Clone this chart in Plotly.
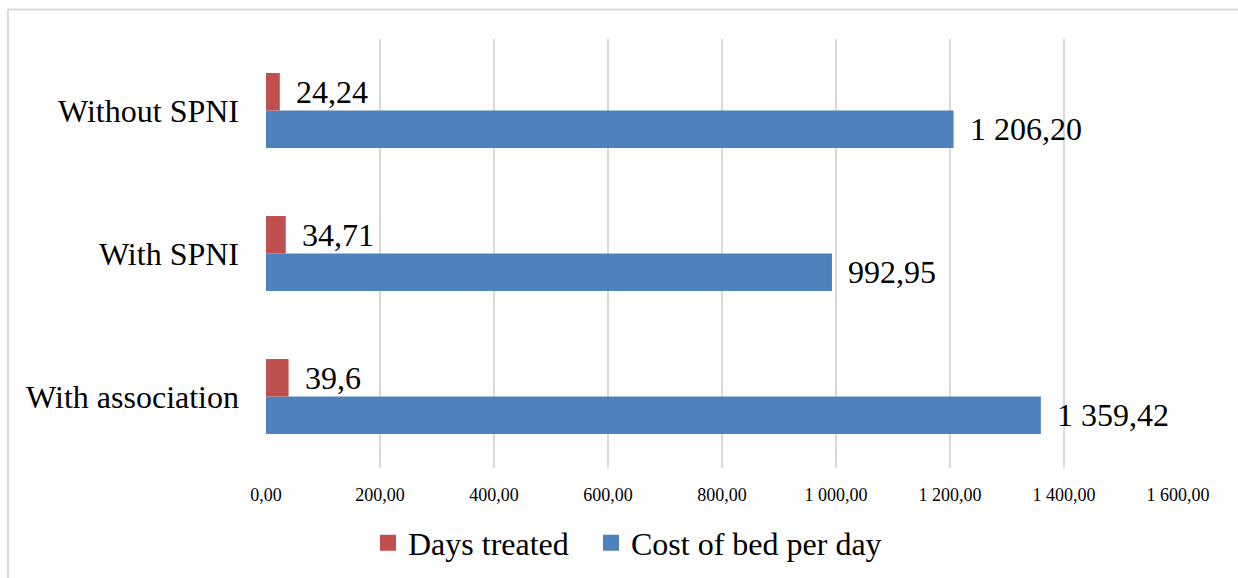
import plotly.graph_objects as go

# Categories listed bottom-to-top on the value axis
categories = ["With association", "With SPNI", "Without SPNI"]
days_treated = [39.6, 34.71, 24.24]
cost_per_day = [1359.42, 992.95, 1206.20]
days_labels = ["39,6", "34,71", "24,24"]
cost_labels = ["1 359,42", "992,95", "1 206,20"]
x_ticks = [0, 200, 400, 600, 800, 1000, 1200, 1400, 1600]

RED = "#C0504D"
BLUE = "#4F81BD"
FONT = "Liberation Serif"
BIG = 32

fig = go.Figure()

# Cost first so it sits below the days bar inside each group
fig.add_trace(go.Bar(y=categories, x=cost_per_day, orientation="h",
                     marker=dict(color=BLUE, line=dict(width=0)),
                     name="Cost of bed per day", showlegend=False,
                     hoverinfo="x"))
fig.add_trace(go.Bar(y=categories, x=days_treated, orientation="h",
                     marker=dict(color=RED, line=dict(width=0)),
                     name="Days treated", showlegend=False,
                     hoverinfo="x"))

# Legend entries with larger square swatches, one legend box each
fig.add_trace(go.Scatter(x=[None], y=[None], mode="markers", name="Days treated",
                         marker=dict(symbol="square", size=17, color=RED),
                         legend="legend"))
fig.add_trace(go.Scatter(x=[None], y=[None], mode="markers", name="Cost of bed per day",
                         marker=dict(symbol="square", size=17, color=BLUE),
                         legend="legend2"))

# Value labels just past the end of each bar
shift = 18.7
for cat, v, lab in zip(categories, days_treated, days_labels):
    fig.add_annotation(x=v, y=cat, text=lab, showarrow=False, xanchor="left",
                       yanchor="middle", xshift=14, yshift=shift,
                       font=dict(family=FONT, size=BIG, color="#000000"))
for cat, v, lab in zip(categories, cost_per_day, cost_labels):
    fig.add_annotation(x=v, y=cat, text=lab, showarrow=False, xanchor="left",
                       yanchor="middle", xshift=14, yshift=-shift,
                       font=dict(family=FONT, size=BIG, color="#000000"))

W, H = 1238, 578
L, R, T, B = 266, 60, 39, 110
pw, ph = W - L - R, H - T - B


def px_x(p):
    return (p - L) / pw


def px_y(p):
    return (H - B - p) / ph


# Chart frame: top and left edges
frame = dict(color="#D9D9D9", width=2)
fig.add_shape(type="line", xref="paper", yref="paper",
              x0=px_x(8), x1=px_x(1320), y0=px_y(9.5), y1=px_y(9.5),
              line=frame, layer="below")
fig.add_shape(type="line", xref="paper", yref="paper",
              x0=px_x(8), x1=px_x(8), y0=px_y(9.5), y1=px_y(650),
              line=frame, layer="below")

legend_style = dict(orientation="h", yanchor="middle", y=px_y(543),
                    xanchor="left",
                    font=dict(family=FONT, size=BIG, color="#000000"),
                    bgcolor="rgba(0,0,0,0)")

fig.update_layout(
    width=W, height=H,
    margin=dict(l=L, r=R, t=T, b=B, autoexpand=False),
    paper_bgcolor="white", plot_bgcolor="white",
    barmode="group", bargap=0.476, bargroupgap=0,
    separators=", ",
    font=dict(family=FONT, color="#000000"),
    showlegend=True,
    legend=dict(x=px_x(368), **legend_style),
    legend2=dict(x=px_x(591), **legend_style),
    xaxis=dict(range=[0, 1600], tickvals=x_ticks, tickformat=",.2f",
               showgrid=True, gridcolor="#D9D9D9", gridwidth=1.5,
               zeroline=False, showline=False, ticks="",
               ticklabelstandoff=14,
               tickfont=dict(family=FONT, size=18, color="#000000"),
               fixedrange=True),
    yaxis=dict(categoryorder="array", categoryarray=categories,
               showgrid=False, zeroline=False, showline=False, ticks="",
               ticklabelstandoff=26,
               tickfont=dict(family=FONT, size=BIG, color="#000000"),
               fixedrange=True),
)

fig.write_html("out.html")
